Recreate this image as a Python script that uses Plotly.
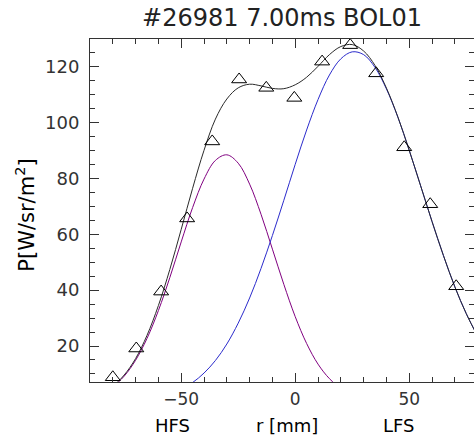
import plotly.graph_objects as go

# Measured points (triangles)
r_meas = [-80.0, -69.7, -58.8, -47.4, -36.4, -24.6, -12.7, -0.4, 11.8, 24.1, 35.5, 47.8, 59.2, 70.6]
p_meas = [8.8, 19.1, 39.5, 65.7, 93.3, 115.5, 112.5, 108.9, 121.9, 127.8, 117.7, 91.2, 70.8, 41.4]

# Curves
r_curve = [-85, -80, -75, -70, -65, -60, -55, -50, -45, -40, -35, -30, -25, -20, -15, -10, -5,
           0, 5, 10, 15, 20, 25, 30, 35, 40, 45, 50, 55, 60, 65, 70, 75, 80]
p_total = [3.0, 5.6, 9.6, 15.5, 23.8, 34.5, 47.4, 61.8, 76.5, 90.1, 101.3, 108.5, 112.5, 113.8,
           113.2, 112.3, 112.2, 113.6, 116.3, 120.2, 124.4, 127.3, 128.0, 125.7, 120.5, 112.4,
           102.1, 90.1, 77.4, 64.6, 52.4, 41.2, 31.6, 23.5]
p_hfs = [2.9, 5.4, 9.2, 14.9, 22.7, 32.7, 44.5, 57.3, 69.6, 79.8, 86.5, 88.5, 85.5, 78.0, 67.2,
         54.7, 42.1, 30.5, 20.9, 13.5, 8.3, 4.8, 2.6, 1.3, 0.6, 0.3, 0.1, 0.0, 0.0, 0.0, 0.0,
         0.0, 0.0, 0.0]
p_lfs = [0.1, 0.2, 0.4, 0.6, 1.1, 1.8, 2.9, 4.5, 6.9, 10.3, 14.8, 20.7, 28.2, 37.2, 47.8, 59.6,
         72.2, 85.1, 97.4, 108.3, 117.1, 122.9, 125.4, 124.4, 119.8, 112.1, 102.0, 90.1, 77.4,
         64.6, 52.4, 41.2, 31.6, 23.5]

x_ticks = [-50, 0, 50]
x_labels = ["HFS", "r [mm]", "LFS"]
x_label_pos = [-53.7, -3.5, 45.6]

title_text = "#26981 7.00ms BOL01"
y_title = "P[W/sr/m<sup>2</sup>]"

FONT = "DejaVu Sans"
AX = "#333333"

fig = go.Figure()
fig.add_trace(go.Scatter(x=r_curve, y=p_hfs, mode="lines", line=dict(color="#800080", width=1),
                         line_shape="spline", showlegend=False))
fig.add_trace(go.Scatter(x=r_curve, y=p_lfs, mode="lines", line=dict(color="#2b2bcc", width=1),
                         line_shape="spline", showlegend=False))
fig.add_trace(go.Scatter(x=r_curve, y=p_total, mode="lines", line=dict(color="#2a2a2a", width=1),
                         line_shape="spline", showlegend=False))
fig.add_trace(go.Scatter(x=r_meas, y=p_meas, mode="markers", cliponaxis=False,
                         marker=dict(symbol="triangle-up-open", size=13, color="black",
                                     line=dict(width=1, color="black")),
                         showlegend=False))

ann = []
for t, xp in zip(x_labels, x_label_pos):
    ann.append(dict(x=xp, y=-0.1255, xref="x", yref="paper", text=t, showarrow=False,
                    xanchor="center", yanchor="middle", font=dict(family=FONT, size=18, color="black")))
ann.append(dict(x=-0.17, y=0.487, xref="paper", yref="paper", text=y_title, showarrow=False,
                textangle=-90, xanchor="center", yanchor="middle",
                font=dict(family=FONT, size=21, color="black")))

fig.update_layout(
    width=474, height=435,
    margin=dict(l=90, r=0, t=39, b=53),
    paper_bgcolor="white", plot_bgcolor="white",
    title=dict(text=title_text, x=0.5, xref="paper", y=1 - 18 / 435, yref="container",
               xanchor="center", yanchor="middle", font=dict(family=FONT, size=24, color="#222")),
    annotations=ann,
    xaxis=dict(range=[-90, 78.4], tickmode="array", tickvals=x_ticks, ticks="inside", ticklen=9,
               tickcolor=AX, showline=True, linecolor=AX, linewidth=1, mirror="ticks",
               showgrid=False, zeroline=False, ticklabelstandoff=2,
               tickfont=dict(family=FONT, size=17, color="#333"),
               minor=dict(dtick=10, tick0=0, ticks="inside", ticklen=5, tickcolor=AX, showgrid=False)),
    yaxis=dict(range=[7.1, 130], tick0=0, dtick=20, ticks="inside", ticklen=9,
               tickcolor=AX, showline=True, linecolor=AX, linewidth=1, mirror="ticks",
               showgrid=False, zeroline=False, ticklabelstandoff=6,
               tickfont=dict(family=FONT, size=18, color="#333"),
               minor=dict(dtick=5, tick0=0, ticks="inside", ticklen=5, tickcolor=AX, showgrid=False)),
)

fig.write_html("out.html")
